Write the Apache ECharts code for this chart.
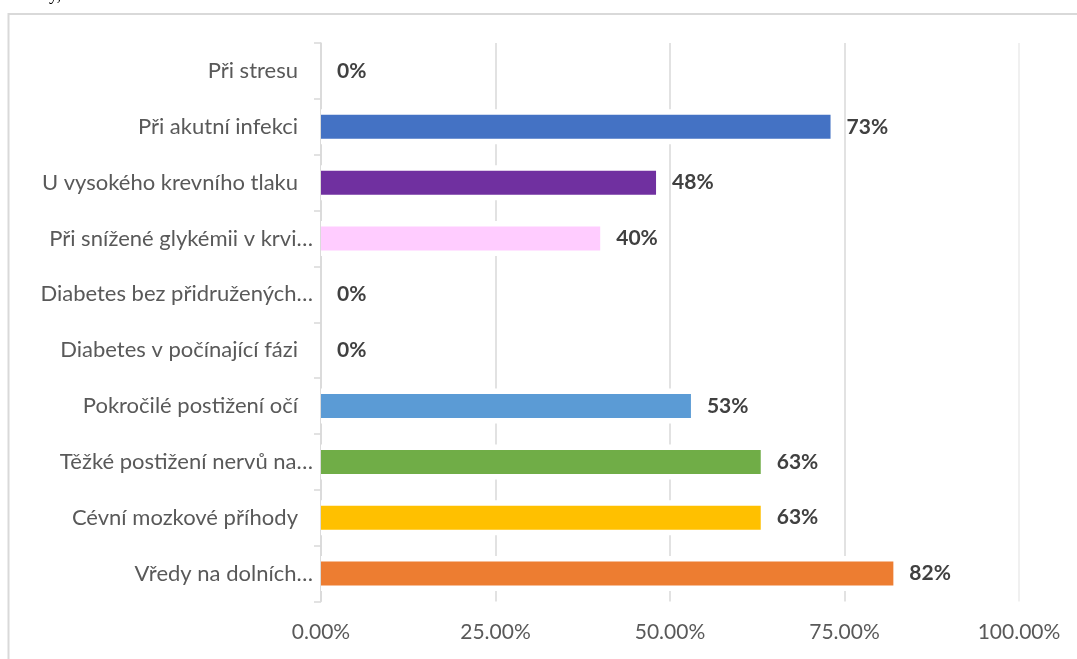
<!DOCTYPE html>
<html>
<head>
<meta charset="utf-8">
<script src="https://cdn.jsdelivr.net/npm/echarts@6/dist/echarts.min.js"></script>
<style>
  html, body { margin: 0; padding: 0; background: #fff; }
  #chart { width: 1077px; height: 659px; }
</style>
</head>
<body>
<div id="chart"></div>
<script>
// Categories, top to bottom
const categories = [
  'Při stresu',
  'Při akutní infekci',
  'U vysokého krevního tlaku',
  'Při snížené glykémii v krvi…',
  'Diabetes bez přidružených…',
  'Diabetes v počínající fázi',
  'Pokročilé postižení očí',
  'Těžké postižení nervů na…',
  'Cévní mozkové příhody',
  'Vředy na dolních…'
];
// Share of answers (0–1)
const values = [0, 0.73, 0.48, 0.40, 0, 0, 0.53, 0.63, 0.63, 0.82];
const barColors = ['#A5A5A5', '#4472C4', '#7030A0', '#FFCCFF', '#264478', '#9E480E', '#5B9BD5', '#70AD47', '#FFC000', '#ED7D31'];
const xTicks = [0, 0.25, 0.5, 0.75, 1];

const FONT = 'Lato, "Open Sans", sans-serif';
const GRID_COLOR = '#d9d9d9';
const LABEL_STYLE = { color: '#595959', fontSize: 22, fontFamily: FONT };

const chart = echarts.init(document.getElementById('chart'), null, { renderer: 'canvas' });

chart.setOption({
  animation: false,
  backgroundColor: '#fff',
  graphic: [
    {
      type: 'rect',
      shape: { x: 8.5, y: 14, width: 1200, height: 800 },
      style: { fill: 'none', stroke: '#d9d9d9', lineWidth: 2 },
      z: 0
    },
    {
      type: 'text',
      x: 44, y: 4,
      style: { text: 'ty,', fill: '#000', font: '18px "Liberation Serif", serif', verticalAlign: 'bottom' },
      z: 0
    }
  ],
  grid: { left: 321, right: 58, top: 43, bottom: 57.5, containLabel: false },
  xAxis: {
    type: 'value',
    min: xTicks[0],
    max: xTicks[xTicks.length - 1],
    interval: xTicks[1] - xTicks[0],
    axisLine: { show: false },
    axisTick: { show: false },
    splitLine: {
      show: true,
      // the outermost gridline is drawn fainter
      lineStyle: { color: [GRID_COLOR, GRID_COLOR, GRID_COLOR, GRID_COLOR, '#ebebeb'], width: 1.5 }
    },
    axisLabel: {
      color: '#595959',
      fontSize: 21,
      fontFamily: FONT,
      margin: 20,
      formatter: v => (v * 100).toFixed(2) + '%'
    }
  },
  yAxis: [
    {
      type: 'category',
      inverse: true,
      data: categories,
      axisLine: { show: true, lineStyle: { color: GRID_COLOR, width: 1.5 } },
      axisTick: { show: true, length: 7, lineStyle: { color: GRID_COLOR, width: 1.5 } },
      axisLabel: {
        margin: 8,
        // full labels sit a little further from the axis than the shortened ones
        formatter: v => v.endsWith('…') ? '{cut|' + v + '}' : '{full|' + v + '}',
        rich: {
          cut: Object.assign({}, LABEL_STYLE),
          full: Object.assign({ padding: [0, 15, 0, 0] }, LABEL_STYLE)
        }
      }
    },
    {
      type: 'category',
      inverse: true,
      data: categories,
      show: false
    }
  ],
  series: [
    {
      // white band behind each bar, breaking the gridlines around it
      type: 'bar',
      yAxisIndex: 1,
      data: values,
      barWidth: 35,
      silent: true,
      itemStyle: { color: '#fff' },
      z: 2
    },
    {
      type: 'bar',
      yAxisIndex: 0,
      data: values.map((v, i) => ({ value: v, itemStyle: { color: barColors[i] } })),
      barWidth: 24,
      z: 3,
      label: {
        show: true,
        position: 'right',
        distance: 16,
        formatter: p => Math.round(p.value * 100) + '%',
        color: '#404040',
        fontWeight: 'bold',
        fontSize: 21,
        fontFamily: FONT
      }
    }
  ]
});
</script>
</body>
</html>
